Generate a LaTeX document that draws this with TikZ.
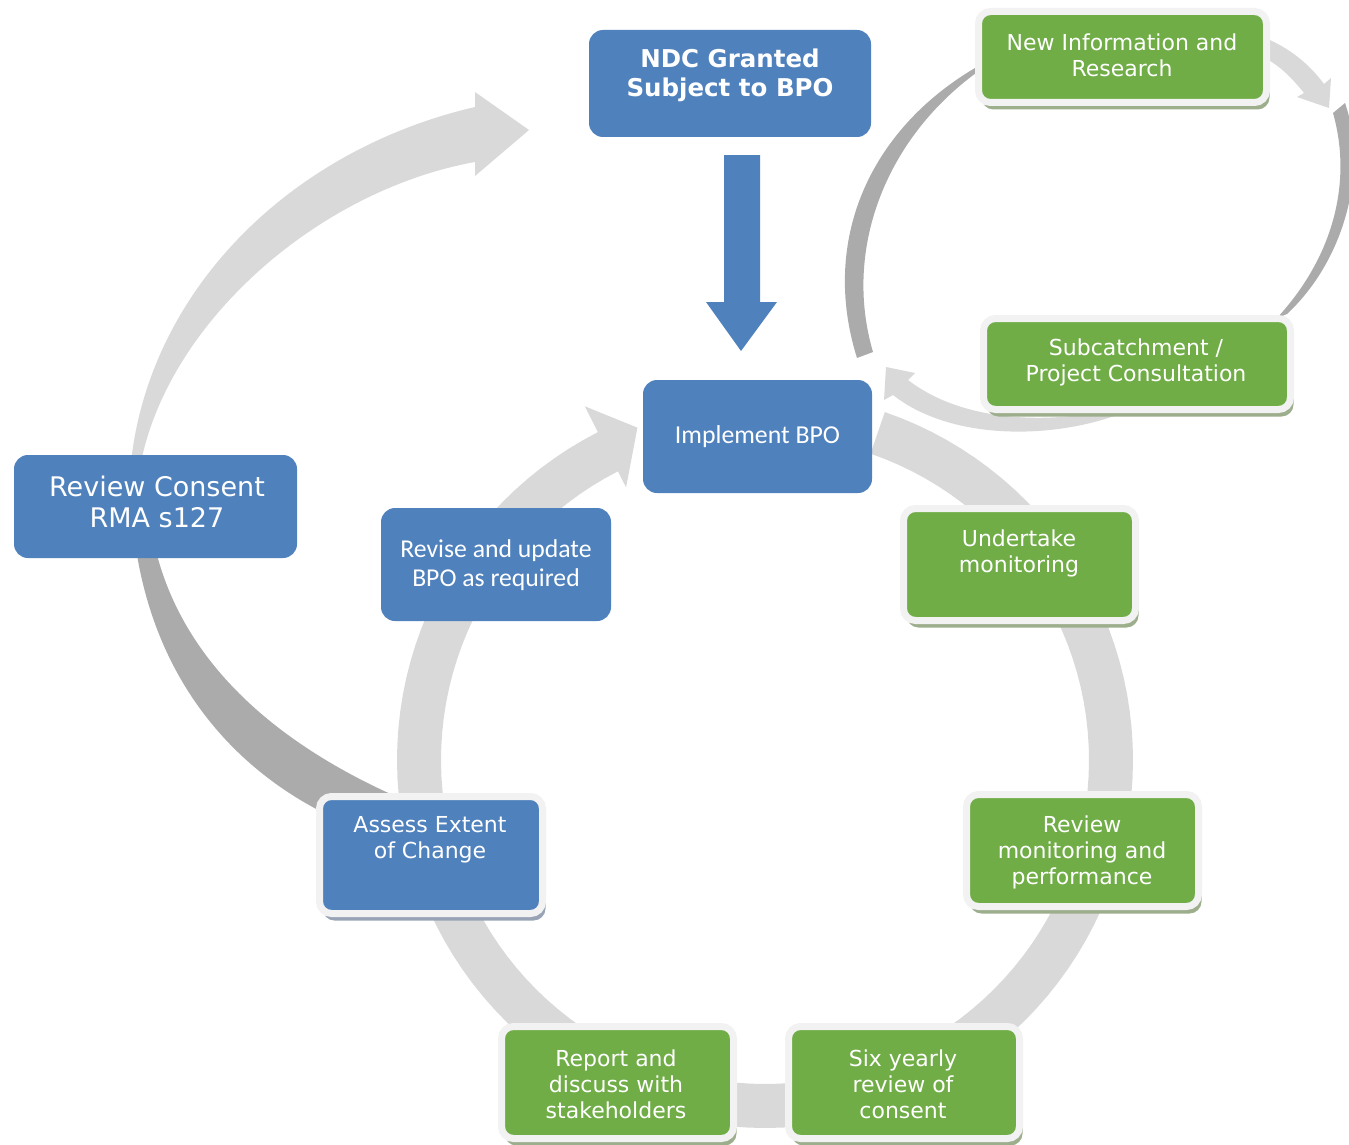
\documentclass[tikz,border=0pt]{standalone}
\usepackage{fontspec}
\setmainfont{DejaVu Sans}
\newfontfamily\calfont{Carlito}
\usetikzlibrary{shadows,calc}
\definecolor{boxblue}{HTML}{4F81BD}
\definecolor{boxgreen}{HTML}{70AD47}
\definecolor{rimgrey}{HTML}{F2F2F2}
\definecolor{shadowgreen}{HTML}{9DAE8C}
\definecolor{shadowblue}{HTML}{98A4B6}
\definecolor{lightarrow}{HTML}{D9D9D9}
\definecolor{darkarrow}{HTML}{ABABAB}
\begin{document}
\begin{tikzpicture}[x=1pt,y=-1pt,
  bluebox/.style={rectangle, rounded corners=14pt, fill=boxblue, inner sep=0pt},
  rimbox/.style={rectangle, rounded corners=12pt, draw=rimgrey, line width=7pt, inner sep=0pt,
     drop shadow={shadow xshift=3pt, shadow yshift=-7pt, fill=#1, opacity=1}},
  greenbox/.style={rimbox=shadowgreen, fill=boxgreen},
  blueframe/.style={rimbox=shadowblue, fill=boxblue},
  txt/.style={text=white, align=center, inner sep=0pt, font=\fontsize{22}{26}\selectfont},
  lightfill/.style={fill=lightarrow},
  darkfill/.style={fill=darkarrow}]
\useasboundingbox (0,0) rectangle (1349,1145);
\clip (0,0) rectangle (1349,1145);

% ---- main cycle ring with arrow head into Implement BPO
\coordinate (C) at (765,760);
\fill[lightfill] plot[domain=-71:243, samples=120] ({765+368*cos(\x)},{760+368*sin(\x)})
   -- ($(C)+(243:397)$) -- ($(C)+(249:356)$) -- ($(C)+(243:306)$)
   -- plot[domain=243:-71, samples=120] ({765+324*cos(\x)},{760+324*sin(\x)}) -- cycle;

% ---- big arrow Review Consent -> NDC
\fill[lightfill] (131,462) .. controls (150,290) and (290,150) .. (475,107) -- (475,92) -- (529,130)
   -- (475,176) -- (475,162) .. controls (320,190) and (170,320) .. (141,462) -- cycle;
% ---- dark band Assess -> Review Consent
\fill[darkfill] (137,555) .. controls (160,690) and (240,770) .. (322,812) -- (395,796)
   .. controls (270,740) and (185,660) .. (157,555) -- cycle;

% ---- right loop
\fill[darkfill] (857,358) .. controls (820,240) and (870,130) .. (975,68) -- (976,73)
   .. controls (885,140) and (843,250) .. (873,352) -- cycle;
\fill[lightfill] (1265,38) .. controls (1290,48) and (1310,65) .. (1324,84) -- (1331,78) -- (1329,108)
   -- (1297,97) -- (1304,93) .. controls (1292,78) and (1280,66) .. (1265,58) -- cycle;
\fill[darkfill] (1333,113) .. controls (1352,180) and (1335,255) .. (1277,318) -- (1287,314)
   .. controls (1345,260) and (1368,170) .. (1345,103) -- cycle;
\fill[lightfill] (886,367) -- (915,373) -- (908,380) .. controls (960,420) and (1040,425) .. (1110,410)
   -- (1120,414) .. controls (1050,440) and (950,440) .. (893,395) -- (884,400) -- cycle;

% ---- blue boxes
\node[bluebox, minimum width=282pt, minimum height=107pt] (ndc) at (730,83.5) {};
\node[bluebox, minimum width=229pt, minimum height=113pt, text=white,
      font=\calfont\fontsize{25.8}{30}\selectfont] (impl) at (757.5,436.5) {Implement BPO};
\node[bluebox, minimum width=230pt, minimum height=113pt] (revise) at (496,564.5) {};
\node[bluebox, minimum width=283pt, minimum height=103pt] (rc) at (155.5,506.5) {};

% ---- blue down arrow NDC -> Implement
\fill[boxblue] (724,155) -- (760,155) -- (760,302) -- (777,302) -- (741,351) -- (706,302) -- (724,302) -- cycle;

% ---- framed boxes
\node[blueframe, minimum width=223pt, minimum height=117pt] (assess) at (431,855) {};
\node[greenbox, minimum width=288pt, minimum height=91pt] (newinfo) at (1122.5,57) {};
\node[greenbox, minimum width=307pt, minimum height=91pt] (subc) at (1137,364) {};
\node[greenbox, minimum width=232pt, minimum height=112pt] (under) at (1019.5,564.5) {};
\node[greenbox, minimum width=232pt, minimum height=112pt] (revmon) at (1082.5,850.5) {};
\node[greenbox, minimum width=231pt, minimum height=112pt] (six) at (904,1082.5) {};
\node[greenbox, minimum width=232pt, minimum height=112pt] (report) at (617.5,1082.5) {};

% ---- texts
\node[txt, font=\bfseries\fontsize{24.5}{29}\selectfont] (ndc-t) at (730,75.5) {NDC Granted\\Subject to BPO};
\node[txt, font=\calfont\fontsize{25.7}{29}\selectfont] (revise-t) at (496,565.5) {Revise and update\\BPO as required};
\node[txt, font=\fontsize{27}{31}\selectfont] (rc-t) at (157,502) {Review Consent\\RMA s127};
\node[txt] (assess-t) at (430,840) {Assess Extent\\of Change};
\node[txt] (newinfo-t) at (1122,55) {New Information and\\Research};
\node[txt] (subc-t) at (1136,362) {Subcatchment /\\Project Consultation};
\node[txt] (under-t) at (1019,553) {Undertake\\monitoring};
\node[txt] (revmon-t) at (1082,852) {Review\\monitoring and\\performance};
\node[txt] (six-t) at (903,1084) {Six yearly\\review of\\consent};
\node[txt] (report-t) at (616,1084) {Report and\\discuss with\\stakeholders};
\end{tikzpicture}
\end{document}
